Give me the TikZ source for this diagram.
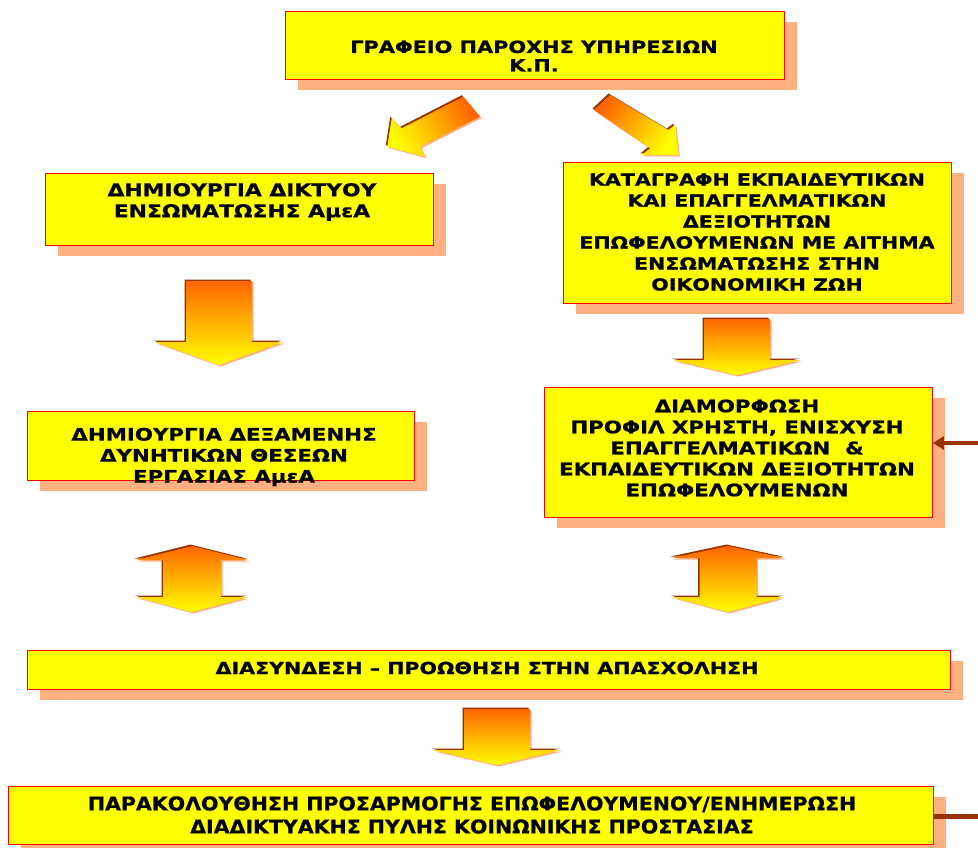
\documentclass[tikz,border=0pt]{standalone}
\usepackage{fontspec}
\setmainfont{DejaVu Sans}
\newfontfamily\vb{DejaVu Sans}[FakeStretch=1.24, BoldFeatures={FakeBold=0.8}]
\newfontfamily\vbc{DejaVu Sans Condensed}[FakeStretch=1.2, BoldFeatures={FakeBold=0.8}]
\usetikzlibrary{shadows,arrows.meta}
\definecolor{sh}{RGB}{255,176,128}
\definecolor{brn}{RGB}{153,51,0}
\definecolor{org}{RGB}{255,102,0}
\definecolor{ylw}{RGB}{255,255,0}
\pgfdeclareverticalshading{arrsh}{100bp}{color(0bp)=(ylw); color(25bp)=(ylw); color(75bp)=(org); color(100bp)=(org)}
\newcommand\DArr[6]{%
  \foreach \cc/\ox in {sh/1.5,brn/-1.5}{\fill[\cc, shift={(\ox,\ox)}] (#1-#5,#2) -- (#1+#5,#2) -- (#1+#5,#3) -- (#1+#6,#3) -- (#1,#4) -- (#1-#6,#3) -- (#1-#5,#3) -- cycle;}
  \shade[shading=arrsh] (#1-#5,#2) -- (#1+#5,#2) -- (#1+#5,#3) -- (#1+#6,#3) -- (#1,#4) -- (#1-#6,#3) -- (#1-#5,#3) -- cycle;}
\newcommand\UDArr[7]{%
  \foreach \cc/\ox in {sh/1.5,brn/-1.5}{\fill[\cc, shift={(\ox,\ox)}] (#1,#2) -- (#1+#7,#3) -- (#1+#6,#3) -- (#1+#6,#4) -- (#1+#7,#4) -- (#1,#5) -- (#1-#7,#4) -- (#1-#6,#4) -- (#1-#6,#3) -- (#1-#7,#3) -- cycle;}
  \shade[shading=arrsh] (#1,#2) -- (#1+#7,#3) -- (#1+#6,#3) -- (#1+#6,#4) -- (#1+#7,#4) -- (#1,#5) -- (#1-#7,#4) -- (#1-#6,#4) -- (#1-#6,#3) -- (#1-#7,#3) -- cycle;}
\tikzset{
  bx/.style={draw=red, line width=0.9pt, fill=ylw, inner sep=0pt, anchor=north west,
    general shadow={fill=sh, shadow xshift=13pt, shadow yshift=-11pt}},
  tx/.style={align=center, inner sep=0pt, font=\vb\bfseries\fontsize{#1}{21}\selectfont},
  tx/.default=17,
}
\begin{document}
\begin{tikzpicture}[x=1pt,y=-1pt]
\useasboundingbox (0,0) rectangle (978,848);
% boxes
\node[bx, minimum width=499pt, minimum height=68pt] (top) at (285,11) {};
\node[bx, minimum width=388pt, minimum height=72pt] (lb1) at (45,173) {};
\node[bx, minimum width=388pt, minimum height=141pt] (rb1) at (563,162) {};
\node[bx, minimum width=387pt, minimum height=69pt] (lb2) at (27,411) {};
\node[bx, minimum width=388pt, minimum height=130pt] (rb2) at (544,387) {};
\node[bx, minimum width=923pt, minimum height=39pt] (wide) at (27,650) {};
\node[bx, minimum width=925pt, minimum height=58pt] (bot) at (8,786) {};
% texts
\node[tx, font=\vb\bfseries\fontsize{16.8}{18.5}\selectfont] (topT) at (534,56) {ΓΡΑΦΕΙΟ ΠΑΡΟΧΗΣ ΥΠΗΡΕΣΙΩΝ\\Κ.Π.};
\node[tx=17.6] (lb1T) at (242,202) {ΔΗΜΙΟΥΡΓΙΑ ΔΙΚΤΥΟΥ\\ΕΝΣΩΜΑΤΩΣΗΣ ΑμεΑ};
\node[tx=16.6] (rb1T) at (757,232) {ΚΑΤΑΓΡΑΦΗ ΕΚΠΑΙΔΕΥΤΙΚΩΝ\\ΚΑΙ ΕΠΑΓΓΕΛΜΑΤΙΚΩΝ\\ΔΕΞΙΟΤΗΤΩΝ\\ΕΠΩΦΕΛΟΥΜΕΝΩΝ ΜΕ ΑΙΤΗΜΑ\\ΕΝΣΩΜΑΤΩΣΗΣ ΣΤΗΝ\\ΟΙΚΟΝΟΜΙΚΗ ΖΩΗ};
\node[tx=17.2] (lb2T) at (224,457) {ΔΗΜΙΟΥΡΓΙΑ ΔΕΞΑΜΕΝΗΣ\\ΔΥΝΗΤΙΚΩΝ ΘΕΣΕΩΝ\\ΕΡΓΑΣΙΑΣ ΑμεΑ};
\node[tx=17.2] (rb2T) at (737,448) {ΔΙΑΜΟΡΦΩΣΗ\\ΠΡΟΦΙΛ ΧΡΗΣΤΗ, ΕΝΙΣΧΥΣΗ\\ΕΠΑΓΓΕΛΜΑΤΙΚΩΝ~~\&\\ΕΚΠΑΙΔΕΥΤΙΚΩΝ ΔΕΞΙΟΤΗΤΩΝ\\ΕΠΩΦΕΛΟΥΜΕΝΩΝ};
\node[tx=16.6] (wideT) at (487,668) {ΔΙΑΣΥΝΔΕΣΗ – ΠΡΟΩΘΗΣΗ ΣΤΗΝ ΑΠΑΣΧΟΛΗΣΗ};
\node[tx, font=\vbc\bfseries\fontsize{19}{23}\selectfont] (botT) at (472,815) {ΠΑΡΑΚΟΛΟΥΘΗΣΗ ΠΡΟΣΑΡΜΟΓΗΣ ΕΠΩΦΕΛΟΥΜΕΝΟΥ/ΕΝΗΜΕΡΩΣΗ\\ΔΙΑΔΙΚΤΥΑΚΗΣ ΠΥΛΗΣ ΚΟΙΝΩΝΙΚΗΣ ΠΡΟΣΤΑΣΙΑΣ};
% diagonal arrows
\foreach \cc/\ox in {sh/1.5,brn/-1.5}{
  \fill[\cc, shift={(\ox,\ox)}] (463.3,96.7) -- (480,116.7) -- (420,146.7) -- (425,156.7) -- (387.3,146.7) -- (391.7,118.3) -- (401.7,128.3) -- cycle;
  \fill[\cc, shift={(\ox,\ox)}] (610,95) -- (668.3,130) -- (675,125) -- (678.3,155) -- (641.7,155) -- (650,148.3) -- (594,110) -- cycle;}
\shade[shading=arrsh, shading angle=-62] (463.3,96.7) -- (480,116.7) -- (420,146.7) -- (425,156.7) -- (387.3,146.7) -- (391.7,118.3) -- (401.7,128.3) -- cycle;
\shade[shading=arrsh, shading angle=54] (610,95) -- (668.3,130) -- (675,125) -- (678.3,155) -- (641.7,155) -- (650,148.3) -- (594,110) -- cycle;
% vertical arrows
\DArr{219}{281}{342}{365}{33}{64}
\DArr{737}{319}{360}{375}{33}{64}
\DArr{497}{709}{750}{765}{33}{64}
% double arrows
\UDArr{192}{546}{560}{597}{612}{29}{56}
\UDArr{728}{546}{558}{597}{612}{28.5}{56}
% side connectors
\coordinate (rin) at (978,443);
\coordinate (bout) at (978,816);
\draw[brn, line width=4pt, -{Triangle[length=11pt,width=13pt]}] (rin) -- (rin -| rb2.east);
\draw[brn, line width=5pt] (bout -| bot.east) -- (bout);
\end{tikzpicture}
\end{document}
